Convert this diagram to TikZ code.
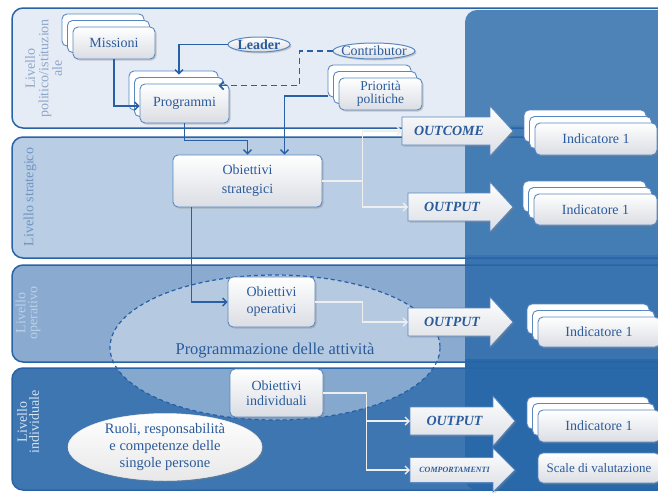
\documentclass[tikz,border=0pt]{standalone}
\usepackage{fontspec}
\setmainfont{Liberation Serif}
\usetikzlibrary{arrows.meta,shadows,calc,shapes.geometric}
\definecolor{bandA}{HTML}{E6ECF5}
\definecolor{bandB}{HTML}{B9CEE4}
\definecolor{bandC}{HTML}{8AAAD0}
\definecolor{bandD}{HTML}{3E76B2}
\definecolor{bandline}{HTML}{2864A5}
\definecolor{panelc}{HTML}{2466A7}
\definecolor{boxline}{HTML}{5A88C0}
\definecolor{boxbot}{HTML}{DADDE3}
\definecolor{txt}{HTML}{2A5B9C}
\definecolor{connc}{HTML}{285FA5}
\definecolor{wconnc}{HTML}{EEEEEE}
\definecolor{labA}{HTML}{8CA6C9}
\definecolor{labB}{HTML}{6E93C2}
\definecolor{labC}{HTML}{BCD0E8}
\definecolor{labD}{HTML}{D8E3F0}
\pgfdeclarelayer{back}
\pgfdeclarelayer{mid}
\pgfsetlayers{back,mid,main}
\tikzset{
 band/.style={rounded corners=11pt},
 dshadow/.style={drop shadow={shadow xshift=1.5pt, shadow yshift=-1.5pt, opacity=0.35}},
 boxbase/.style={rounded corners=5pt, draw=boxline, line width=0.9pt, top color=white, bottom color=boxbot, text=txt, align=center, inner sep=1pt, font=\fontsize{14}{15}\selectfont},
 box/.style={boxbase, dshadow},
 stackbox/.style={boxbase,
   copy shadow={shadow xshift=-11pt, shadow yshift=13pt, draw=boxline, line width=0.9pt, fill=white},
   copy shadow={shadow xshift=-5.5pt, shadow yshift=6.5pt, draw=boxline, line width=0.9pt, fill=white},
   dshadow},
 tag/.style={ellipse, draw=boxline, line width=1pt, top color=white, bottom color=boxbot, inner sep=0pt, dshadow},
 tagtext/.style={text=txt, inner sep=0pt, font=\fontsize{14}{15}\selectfont},
 conn/.style={draw=connc, line width=1.4pt, -{Straight Barb[length=4pt,width=8pt]}},
 dconn/.style={conn, line width=1.8pt, dash pattern=on 6pt off 4pt},
 wconn/.style={draw=wconnc, line width=1.4pt, -{Straight Barb[length=4pt,width=8pt]}},
 barrow/.style={draw=boxline, line width=0.8pt, top color=white, bottom color=boxbot, dshadow},
 arrtxt/.style={text=txt, font=\fontsize{14}{15}\selectfont\bfseries\itshape, inner sep=0pt},
 sidelab/.style={rotate=90, align=center, inner sep=0pt},
}
\newcommand\blockarr[8]{%
 \path[barrow] (#2,#5-#6) -- (#3,#5-#6) -- (#3,#5-#7) -- (#4,#5) -- (#3,#5+#7) -- (#3,#5+#6) -- (#2,#5+#6) -- cycle;
 \node[arrtxt] (#1) at ({(#2+#3)/2+3},#5) {#8};
 \coordinate (#1L) at (#2,#5);
}
\begin{document}
\begin{tikzpicture}[x=1pt,y=-1pt]
\useasboundingbox (0,0) rectangle (658,493);
\begin{pgfonlayer}{back}
 \fill[white] (0,0) rectangle (658,493);
 \fill[bandA, band] (12,8) rectangle (720,128);
 \fill[bandB, band] (12,137) rectangle (720,258);
 \fill[bandC, band] (12,265) rectangle (720,362);
 \fill[bandD, band] (12,368) rectangle (720,490);
 \fill[bandB] (465,125) rectangle (720,140);
 \fill[bandC] (465,255) rectangle (720,268);
 \fill[bandD] (465,359) rectangle (720,371);
 \fill[white, opacity=0.37] (275,347.5) ellipse [x radius=165, y radius=72.5];
 \fill[panelc, opacity=0.78, rounded corners=12pt] (465,10) rectangle (720,490);
 \draw[bandline, line width=1.5pt, band] (12,8) rectangle (720,128);
 \draw[bandline, line width=1.5pt, band] (12,137) rectangle (720,258);
 \draw[bandline, line width=1.5pt, band] (12,265) rectangle (720,362);
 \draw[bandline, line width=1.5pt, band] (12,368) rectangle (720,490);
 \node[sidelab, text=labA, font=\fontsize{14}{13.5}\selectfont] (labA) at (43.5,68.5) {Livello\\politico/istituzion\\ale};
 \node[sidelab, text=labB, font=\fontsize{14}{13.5}\selectfont] (labB) at (30,197) {Livello strategico};
 \node[sidelab, text=labC, font=\fontsize{14}{12}\selectfont] (labC) at (28,313) {Livello\\operativo};
 \node[sidelab, text=labD, font=\fontsize{14}{12}\selectfont] (labD) at (28,422) {Livello\\individuale};
\end{pgfonlayer}
\begin{pgfonlayer}{mid}
 \node[ellipse, minimum width=194pt, minimum height=67pt, inner sep=0pt, top color=white, bottom color=gray!18, draw=white!85!gray, line width=0.5pt, text=txt, align=center, font=\fontsize{14.5}{17}\selectfont, dshadow] (ruoli) at (165,447) {Ruoli, responsabilità\\e competenze delle\\singole persone};
 \draw[connc, line width=1.2pt, dash pattern=on 4pt off 3pt] (275,347.5) ellipse [x radius=165, y radius=72.5];
\end{pgfonlayer}
\node[text=txt, inner sep=0pt, font=\fontsize{16.5}{18}\selectfont] (prog) at (275,351) {Programmazione delle attività};
% boxes
\node[stackbox, minimum width=82pt, minimum height=32pt] (missioni) at (114,43) {Missioni};
\node[stackbox, minimum width=89pt, minimum height=39pt] (programmi) at (184.5,103.5) {Programmi};
\node[stackbox, minimum width=83pt, minimum height=32pt, font=\fontsize{13.5}{13}\selectfont] (priorita) at (380.5,94) {Priorità\\politiche};
\node[box, minimum width=149pt, minimum height=52pt, font=\fontsize{14}{19}\selectfont] (strategici) at (247.5,181) {Obiettivi\\strategici};
\node[box, minimum width=87pt, minimum height=50pt, font=\fontsize{14}{17}\selectfont] (operativi) at (271.5,302) {Obiettivi\\operativi};
\node[box, minimum width=93pt, minimum height=48pt, font=\fontsize{14}{15}\selectfont] (individuali) at (276.5,393) {Obiettivi\\individuali};
\node[tag, minimum width=62pt, minimum height=15pt] (leader) at (259,44.5) {};
\node[tagtext, font=\fontsize{14}{15}\selectfont\bfseries] (leaderT) at (leader) {Leader};
\node[tag, minimum width=82pt, minimum height=16pt] (contributor) at (374,51) {};
\node[tagtext] (contributorT) at (contributor) {Contributor};
% indicators
\node[stackbox, minimum width=122pt, minimum height=32pt] (ind1) at (596,139) {Indicatore 1};
\node[stackbox, minimum width=123pt, minimum height=31pt] (ind2) at (595.5,209.5) {Indicatore 1};
\node[stackbox, minimum width=122pt, minimum height=30pt] (ind3) at (599,332) {Indicatore 1};
\node[stackbox, minimum width=122pt, minimum height=32pt] (ind4) at (599,426) {Indicatore 1};
\node[box, minimum width=122pt, minimum height=30pt, font=\fontsize{13}{14}\selectfont] (scale) at (599,468) {Scale di valutazione};
% block arrows
\blockarr{outcome}{402}{490}{513}{131}{14}{25}{OUTCOME}
\blockarr{outA}{408}{490}{513}{207}{14}{25}{OUTPUT}
\blockarr{outB}{408}{490}{513}{322}{14}{25}{OUTPUT}
\blockarr{outC}{410}{493}{515}{421}{14}{25}{OUTPUT}
\blockarr{comp}{410}{493}{515}{470}{12.5}{22}{\fontsize{8}{9}\selectfont COMPORTAMENTI}
% blue connectors
\draw[conn] (missioni.south) |- ($(programmi.west)+(0,2.5)$);
\draw[conn] (leader.west) -| ($(programmi.north)+(-5.5,-9)$);
\draw[dconn] (contributor.west) -- ($(contributor.west)+(-33,0)$) |- ($(programmi.north east)+(-11,2)$);
\draw[conn] ($(priorita.west)+(-11,2)$) -| ($(strategici.north)+(37,0)$);
\draw[conn] (programmi.south) -- ++(0,17) -| (strategici.north);
\draw[conn] ($(strategici.south west)+(19,0)$) |- (operativi.west);
% white connectors
\draw[wconn] (strategici.east) -- ++(40,0) |- (outcomeL);
\draw[wconn] ($(strategici.east)+(40,0)$) |- (outAL);
\draw[wconn] (operativi.east) -- ++(47,0) |- (outBL);
\draw[wconn] (individuali.east) -- ++(43,0) |- (outCL);
\draw[wconn] ($(individuali.east)+(43,0)$) |- (compL);
\end{tikzpicture}
\end{document}
